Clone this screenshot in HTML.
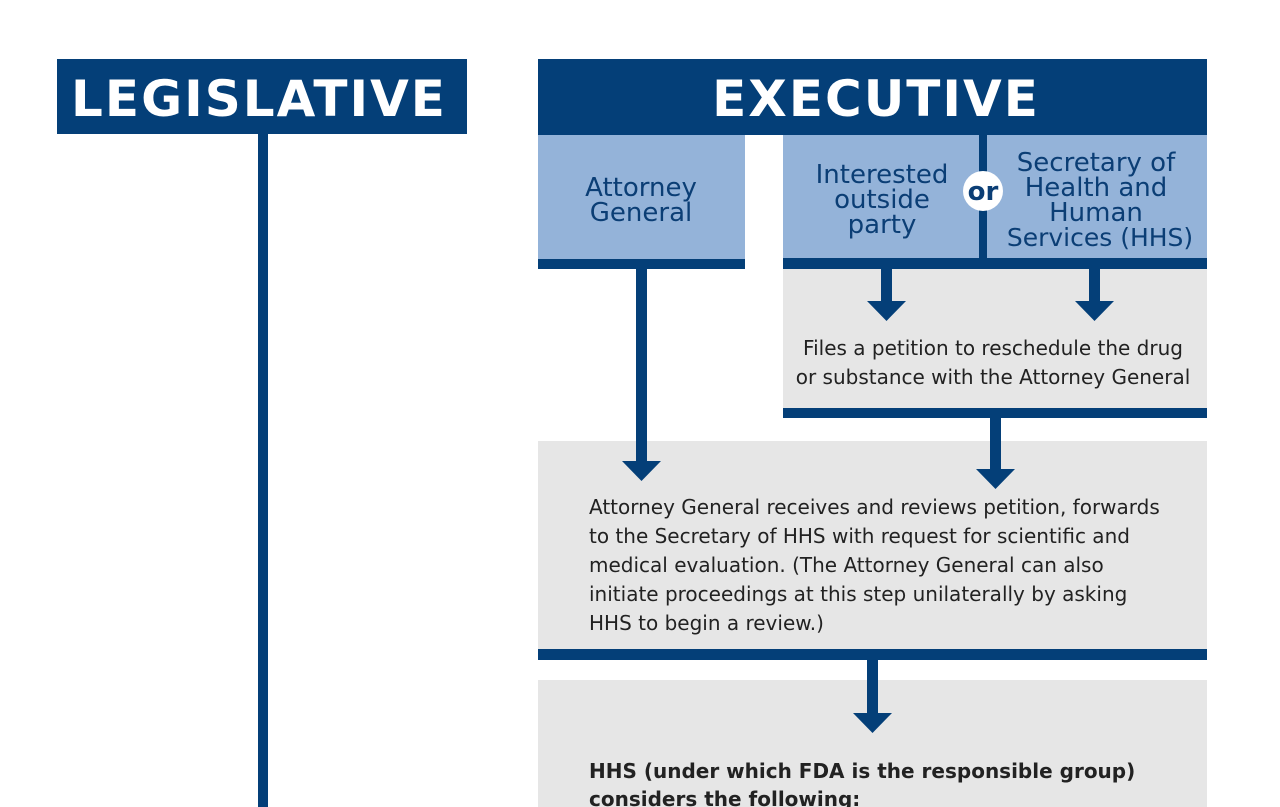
<!DOCTYPE html>
<html><head><meta charset="utf-8"><style>
html,body{margin:0;padding:0;background:#fff;width:1280px;height:807px;overflow:hidden}
</style></head><body>
<svg width="1280" height="807" xmlns="http://www.w3.org/2000/svg" style="display:block">
<g fill="#043f78">
<rect x="57" y="59" width="410" height="75"/>
<rect x="258" y="134" width="10" height="680"/>
<rect x="538" y="59" width="669" height="76"/>
</g>
<rect x="538" y="135" width="207" height="125" fill="#94b3d9"/>
<rect x="538" y="259" width="207" height="10" fill="#043f78"/>
<rect x="783" y="135" width="424" height="124" fill="#94b3d9"/>
<rect x="979" y="135" width="8" height="124" fill="#043f78"/>
<rect x="783" y="258" width="424" height="11" fill="#043f78"/>
<rect x="783" y="269" width="424" height="140" fill="#e6e6e6"/>
<rect x="783" y="408" width="424" height="10" fill="#043f78"/>
<rect x="538" y="441" width="669" height="209" fill="#e6e6e6"/>
<rect x="538" y="649" width="669" height="11" fill="#043f78"/>
<rect x="538" y="680" width="669" height="127" fill="#e6e6e6"/>
<g fill="#043f78">
<rect x="881" y="269" width="11" height="33"/><polygon points="867,301 906,301 886.5,321"/>
<rect x="1089" y="269" width="11" height="33"/><polygon points="1075,301 1114,301 1094.5,321"/>
<rect x="636" y="269" width="11" height="193"/><polygon points="622,461 661,461 641.5,481"/>
<rect x="990" y="418" width="11" height="52"/><polygon points="976,469 1015,469 995.5,489"/>
<rect x="867" y="660" width="11" height="54"/><polygon points="853,713 892,713 872.5,733"/>
</g>
<circle cx="983" cy="191" r="20" fill="#fff"/>
<g font-family="DejaVu Sans, Liberation Sans, sans-serif" font-weight="bold" fill="#fff" text-anchor="middle">
<text x="259" y="116" font-size="50" letter-spacing="2">LEGISLATIVE</text>
<text x="876" y="116" font-size="50" letter-spacing="2">EXECUTIVE</text>
</g>
<g font-family="DejaVu Sans, Liberation Sans, sans-serif" fill="#0b3e75" text-anchor="middle" font-size="26">
<text x="641" y="196">Attorney</text><text x="641" y="221">General</text>
<text x="882" y="183">Interested</text><text x="882" y="208">outside</text><text x="882" y="233">party</text>
<text x="1096" y="171">Secretary of</text><text x="1096" y="196">Health and</text><text x="1096" y="221">Human</text><text x="1100" y="246" font-size="25">Services (HHS)</text>
<text x="983" y="200" font-size="26" font-weight="bold">or</text>
</g>
<g font-family="DejaVu Sans, Liberation Sans, sans-serif" fill="#222" font-size="20">
<text x="993" y="355" text-anchor="middle">Files a petition to reschedule the drug</text>
<text x="993" y="384" text-anchor="middle">or substance with the Attorney General</text>
<text x="589" y="514">Attorney General receives and reviews petition, forwards</text>
<text x="589" y="543">to the Secretary of HHS with request for scientific and</text>
<text x="589" y="572">medical evaluation. (The Attorney General can also</text>
<text x="589" y="601">initiate proceedings at this step unilaterally by asking</text>
<text x="589" y="630">HHS to begin a review.)</text>
<text x="589" y="778" font-weight="bold" font-size="20">HHS (under which FDA is the responsible group)</text>
<text x="589" y="806" font-weight="bold" font-size="20">considers the following:</text>
</g>
</svg>
</body></html>
